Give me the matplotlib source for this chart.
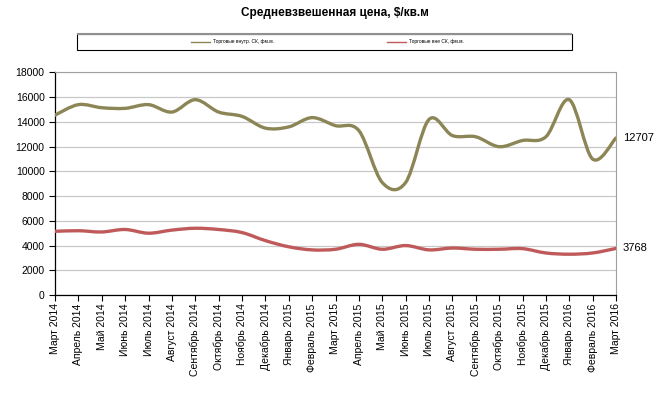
import numpy as np
import matplotlib.pyplot as plt
from matplotlib.path import Path
from matplotlib.patches import PathPatch, Rectangle
from matplotlib.lines import Line2D

plt.rcParams['font.family'] = ['Liberation Sans', 'DejaVu Sans']

months = ['Март 2014', 'Апрель 2014', 'Май 2014', 'Июнь 2014', 'Июль 2014',
          'Август 2014', 'Сентябрь 2014', 'Октябрь 2014', 'Ноябрь 2014',
          'Декабрь 2014', 'Январь 2015', 'Февраль 2015', 'Март 2015',
          'Апрель 2015', 'Май 2015', 'Июнь 2015', 'Июль 2015', 'Август 2015',
          'Сентябрь 2015', 'Октябрь 2015', 'Ноябрь 2015', 'Декабрь 2015',
          'Январь 2016', 'Февраль 2016', 'Март 2016']
inside = [14550, 15400, 15150, 15100, 15400, 14800, 15800, 14800, 14450, 13500,
          13600, 14350, 13700, 13300, 9100, 9100, 14200, 12900, 12800, 12000,
          12500, 12800, 15800, 11000, 12707]
outside = [5150, 5200, 5100, 5300, 5000, 5250, 5400, 5300, 5050, 4400,
           3900, 3650, 3700, 4100, 3700, 4000, 3650, 3800, 3700, 3700,
           3750, 3400, 3300, 3400, 3768]
names = ['Торговые внутр. СК, фм.м.', 'Торговые вне СК, фм.м.']
colors = ['#8c8556', '#c05a5a']


def smooth_path(x, y):
    # catmull-rom style bezier, like excel smoothed lines
    x = np.asarray(x, float)
    y = np.asarray(y, float)
    verts = [(x[0], y[0])]
    codes = [Path.MOVETO]
    n = len(x)
    for i in range(n - 1):
        x0, y0 = (x[i - 1], y[i - 1]) if i > 0 else (x[i], y[i])
        x3, y3 = (x[i + 2], y[i + 2]) if i + 2 < n else (x[i + 1], y[i + 1])
        c1 = (x[i] + (x[i + 1] - x0) / 6, y[i] + (y[i + 1] - y0) / 6)
        c2 = (x[i + 1] - (x3 - x[i]) / 6, y[i + 1] - (y3 - y[i]) / 6)
        verts += [c1, c2, (x[i + 1], y[i + 1])]
        codes += [Path.CURVE4] * 3
    return Path(verts, codes)


fig = plt.figure(figsize=(6.67, 3.94), dpi=100)
ax = fig.add_axes([55 / 667, 1 - 295 / 394, 561 / 667, 222.5 / 394])

xs = np.arange(len(months))
for vals, c in zip([inside, outside], colors):
    ax.add_patch(PathPatch(smooth_path(xs, vals), fill=False, edgecolor=c,
                           lw=2.4, capstyle='round', zorder=3))

ax.set_xlim(0, len(months) - 1)
ax.set_ylim(0, 18000)
ax.set_yticks(np.arange(0, 18001, 2000))
ax.set_xticks(xs)
ax.set_xticklabels(months, rotation=90, fontsize=7.5)
ax.tick_params(axis='y', labelsize=7.5, direction='out', length=4, width=0.8)
ax.tick_params(axis='x', direction='out', length=4, width=0.8, pad=2)
ax.grid(axis='y', color='#c8c8c8', lw=0.9)
ax.set_axisbelow(True)
for s in ['top', 'right']:
    ax.spines[s].set_color('#a0a0a0')
for s in ['left', 'bottom']:
    ax.spines[s].set_color('black')
    ax.spines[s].set_linewidth(0.9)

ax.text(1.012, inside[-1] / 18000, str(inside[-1]), transform=ax.transAxes,
        va='center', ha='left', fontsize=8)
ax.text(1.012, outside[-1] / 18000, str(outside[-1]), transform=ax.transAxes,
        va='center', ha='left', fontsize=8)

fig.text(335 / 667, 1 - 13 / 394, 'Средневзвешенная цена, $/кв.м',
         ha='center', va='center', fontsize=8.5, fontweight='bold')

# legend box
fig.patches.append(Rectangle((77 / 667, 1 - 50 / 394), 495 / 667, 16 / 394,
                             transform=fig.transFigure, fill=False,
                             edgecolor='black', lw=0.8))
fig.lines.append(Line2D([78 / 667, 571 / 667], [1 - 34 / 394, 1 - 34 / 394],
                        transform=fig.transFigure, color='#909090', lw=1.5))
for lx, name, c in zip([191, 387], names, colors):
    fig.lines.append(Line2D([lx / 667, (lx + 19) / 667], [1 - 42 / 394] * 2,
                            transform=fig.transFigure, color=c, lw=1))
    fig.text((lx + 22) / 667, 1 - 42 / 394, name, fontsize=3.5,
             va='center', ha='left')

fig.savefig('out.png', dpi=100)
